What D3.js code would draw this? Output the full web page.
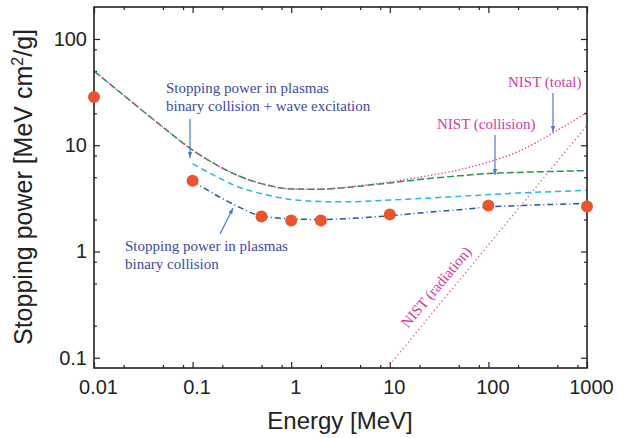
<!DOCTYPE html>
<html>
<head>
<meta charset="utf-8">
<title>stopping-power</title>
<script src="https://cdn.jsdelivr.net/npm/d3@7"></script>
<style>
  body { margin: 0; background: #fff; }
  .tick text { font-family: "Liberation Sans", Arial, sans-serif; font-size: 20px; fill: #222; }
  .tick line { stroke: #222; stroke-width: 1.2px; }
  .note { font-family: "Liberation Serif", "Times New Roman", serif; font-size: 15px; }
  .title { font-family: "Liberation Sans", Arial, sans-serif; fill: #222; }
</style>
</head>
<body>
<div id="chart"></div>
<script>
// NIST values
var energyNist = [0.01, 0.02, 0.05, 0.1, 0.2, 0.3, 0.5, 1, 2, 3, 5, 10, 20, 50, 100, 200, 500, 1000];
var nistCollision = [50, 29.5, 14.8, 9.0, 6.1, 5.1, 4.35, 3.88, 3.85, 3.93, 4.12, 4.42, 4.75, 5.15, 5.41, 5.55, 5.68, 5.77];
var nistTotal = [50, 29.5, 14.8, 9.0, 6.1, 5.1, 4.35, 3.88, 3.86, 3.95, 4.17, 4.5, 5.0, 5.85, 6.95, 8.7, 13.8, 20.4];
var energyRad = [9.4, 131, 1000];
var nistRadiation = [0.08, 1.56, 15.4];

// plasma values
var energyPlasma = [0.1, 0.2, 0.3, 0.5, 1, 2, 3, 5, 10, 20, 50, 100, 200, 500, 1000];
var plasmaWave = [6.7, 4.75, 4.0, 3.5, 3.08, 2.95, 2.93, 2.95, 3.05, 3.15, 3.3, 3.43, 3.55, 3.67, 3.77];
var plasmaBinary = [4.6, 3.15, 2.6, 2.15, 2.03, 2.0, 2.02, 2.07, 2.17, 2.3, 2.47, 2.62, 2.7, 2.78, 2.83];

// dots
var dotEnergy = [0.01, 0.1, 0.5, 1, 2, 10, 100, 1000];
var dotPower = [28.5, 4.63, 2.13, 1.96, 1.96, 2.23, 2.71, 2.65];

var xMajor = [0.01, 0.1, 1, 10, 100, 1000];
var xLabels = ['0.01', '0.1', '1', '10', '100', '1000'];
var yMajor = [0.1, 1, 10, 100];
var yLabels = ['0.1', '1', '10', '100'];
var minorSteps = [2, 5, 8];

var W = 617, H = 438;
var pLeft = 94, pRight = 587, pTop = 7, pBottom = 368;

var x = d3.scaleLog().domain([0.01, 1000]).range([pLeft, pRight]);
var y = d3.scaleLog().domain([0.08, 200]).range([pBottom, pTop]);

function minorOf(decades, dom){
	var out = [];
	decades.forEach(function(d){
		minorSteps.forEach(function(m){
			var v = d * m;
			if(v > dom[0] && v < dom[1]) out.push(v);
		});
	});
	return out;
}
var xMinor = minorOf(xMajor, x.domain());
var yMinor = minorOf([0.01].concat(yMajor), y.domain());

var svg = d3.select('#chart').append('svg')
	.attr('width', W).attr('height', H);

var defs = svg.append('defs');
defs.append('clipPath').attr('id', 'plot')
	.append('rect').attr('x', pLeft).attr('y', pTop)
	.attr('width', pRight - pLeft).attr('height', pBottom - pTop);
defs.append('marker').attr('id', 'head')
	.attr('viewBox', '0 0 8 6').attr('refX', 8).attr('refY', 3)
	.attr('markerWidth', 6).attr('markerHeight', 4.5)
	.attr('markerUnits', 'userSpaceOnUse').attr('orient', 'auto')
	.append('path').attr('d', 'M0,0L8,3L0,6Z').attr('fill', '#4a7fc4');

// axes, ticks inward on all four sides
var gxb = svg.append('g').attr('transform', 'translate(0,' + pBottom + ')')
	.call(d3.axisBottom(x).tickValues(xMajor).tickFormat(function(d, i){ return xLabels[i]; })
		.tickSize(-6).tickPadding(12));
gxb.selectAll('.tick text').attr('dx', 4);
svg.append('g').attr('transform', 'translate(0,' + pBottom + ')')
	.call(d3.axisBottom(x).tickValues(xMinor).tickFormat('').tickSize(-3));
svg.append('g').attr('transform', 'translate(0,' + pTop + ')')
	.call(d3.axisTop(x).tickValues(xMajor).tickFormat('').tickSize(-6));
svg.append('g').attr('transform', 'translate(0,' + pTop + ')')
	.call(d3.axisTop(x).tickValues(xMinor).tickFormat('').tickSize(-3));

svg.append('g').attr('transform', 'translate(' + pLeft + ',0)')
	.call(d3.axisLeft(y).tickValues(yMajor).tickFormat(function(d, i){ return yLabels[i]; })
		.tickSize(-6).tickPadding(7));
svg.append('g').attr('transform', 'translate(' + pLeft + ',0)')
	.call(d3.axisLeft(y).tickValues(yMinor).tickFormat('').tickSize(-3));
svg.append('g').attr('transform', 'translate(' + pRight + ',0)')
	.call(d3.axisRight(y).tickValues(yMajor).tickFormat('').tickSize(-6));
svg.append('g').attr('transform', 'translate(' + pRight + ',0)')
	.call(d3.axisRight(y).tickValues(yMinor).tickFormat('').tickSize(-3));
svg.selectAll('.domain').remove();

// curves
var line = d3.line()
	.x(function(d){ return x(d[0]); })
	.y(function(d){ return y(d[1]); })
	.curve(d3.curveMonotoneX);

function pairs(xs, ys){ return xs.map(function(v, i){ return [v, ys[i]]; }); }

var curves = svg.append('g').attr('clip-path', 'url(#plot)').attr('fill', 'none');
curves.append('path').attr('d', line(pairs(energyPlasma, plasmaWave)))
	.attr('stroke', '#27b4e6').attr('stroke-width', 1.5).attr('stroke-dasharray', '6,4');
curves.append('path').attr('d', line(pairs(energyPlasma, plasmaBinary)))
	.attr('stroke', '#2356a6').attr('stroke-width', 1.5).attr('stroke-dasharray', '6,3,1,3');
curves.append('path').attr('d', line(pairs(energyNist, nistCollision)))
	.attr('stroke', '#1c9c48').attr('stroke-width', 1.5).attr('stroke-dasharray', '7,3');
curves.append('path').attr('d', line(pairs(energyNist, nistTotal)))
	.attr('stroke', '#e0359c').attr('stroke-width', 1.4).attr('stroke-dasharray', '1.3,2.2');
curves.append('path').attr('d', line(pairs(energyRad, nistRadiation)))
	.attr('stroke', '#e04fa6').attr('stroke-width', 1.3).attr('stroke-dasharray', '1.3,2.8');

// frame
svg.append('rect').attr('x', pLeft).attr('y', pTop)
	.attr('width', pRight - pLeft).attr('height', pBottom - pTop)
	.attr('fill', 'none').attr('stroke', '#222').attr('stroke-width', 1.6);

// dots
svg.append('g').selectAll('circle').data(pairs(dotEnergy, dotPower)).enter()
	.append('circle')
	.attr('cx', function(d){ return x(d[0]); })
	.attr('cy', function(d){ return y(d[1]); })
	.attr('r', 6)
	.attr('fill', '#e9552c');

// arrows
var arrows = [
	[190, 119, 190, 158],
	[220, 234, 233, 208],
	[553, 93, 553, 132],
	[495, 135, 495, 175]
];
svg.append('g').selectAll('line').data(arrows).enter().append('line')
	.attr('x1', function(d){ return d[0]; }).attr('y1', function(d){ return d[1]; })
	.attr('x2', function(d){ return d[2]; }).attr('y2', function(d){ return d[3]; })
	.attr('stroke', '#4a7fc4').attr('stroke-width', 1.2)
	.attr('marker-end', 'url(#head)');

// notes
function note(lines, px, py, color){
	var t = svg.append('text').attr('class', 'note').attr('fill', color);
	lines.forEach(function(s, i){
		t.append('tspan').attr('x', px).attr('y', py + i * 18).text(s);
	});
	return t;
}
note(['Stopping power in plasmas', 'binary collision + wave excitation'], 166, 93, '#3b4aa5');
note(['Stopping power in plasmas', 'binary collision'], 125, 251, '#3b4aa5');
note(['NIST (total)'], 508, 87, '#d23a9e');
note(['NIST (collision)'], 437, 129, '#d23a9e');
svg.append('text').attr('class', 'note').attr('fill', '#d23a9e')
	.attr('text-anchor', 'middle').attr('dy', '0.35em')
	.attr('transform', 'translate(436,287) rotate(-50)')
	.text('NIST (radiation)');

// axis titles
svg.append('text').attr('class', 'title').attr('x', 340).attr('y', 429)
	.attr('text-anchor', 'middle').style('font-size', '24px').text('Energy [MeV]');
var yt = svg.append('text').attr('class', 'title')
	.attr('transform', 'translate(32,187) rotate(-90)')
	.attr('text-anchor', 'middle').style('font-size', '25px');
yt.append('tspan').text('Stopping power [MeV cm');
yt.append('tspan').attr('dy', -9).style('font-size', '16px').text('2');
yt.append('tspan').attr('dy', 9).text('/g]');
</script>
</body>
</html>
